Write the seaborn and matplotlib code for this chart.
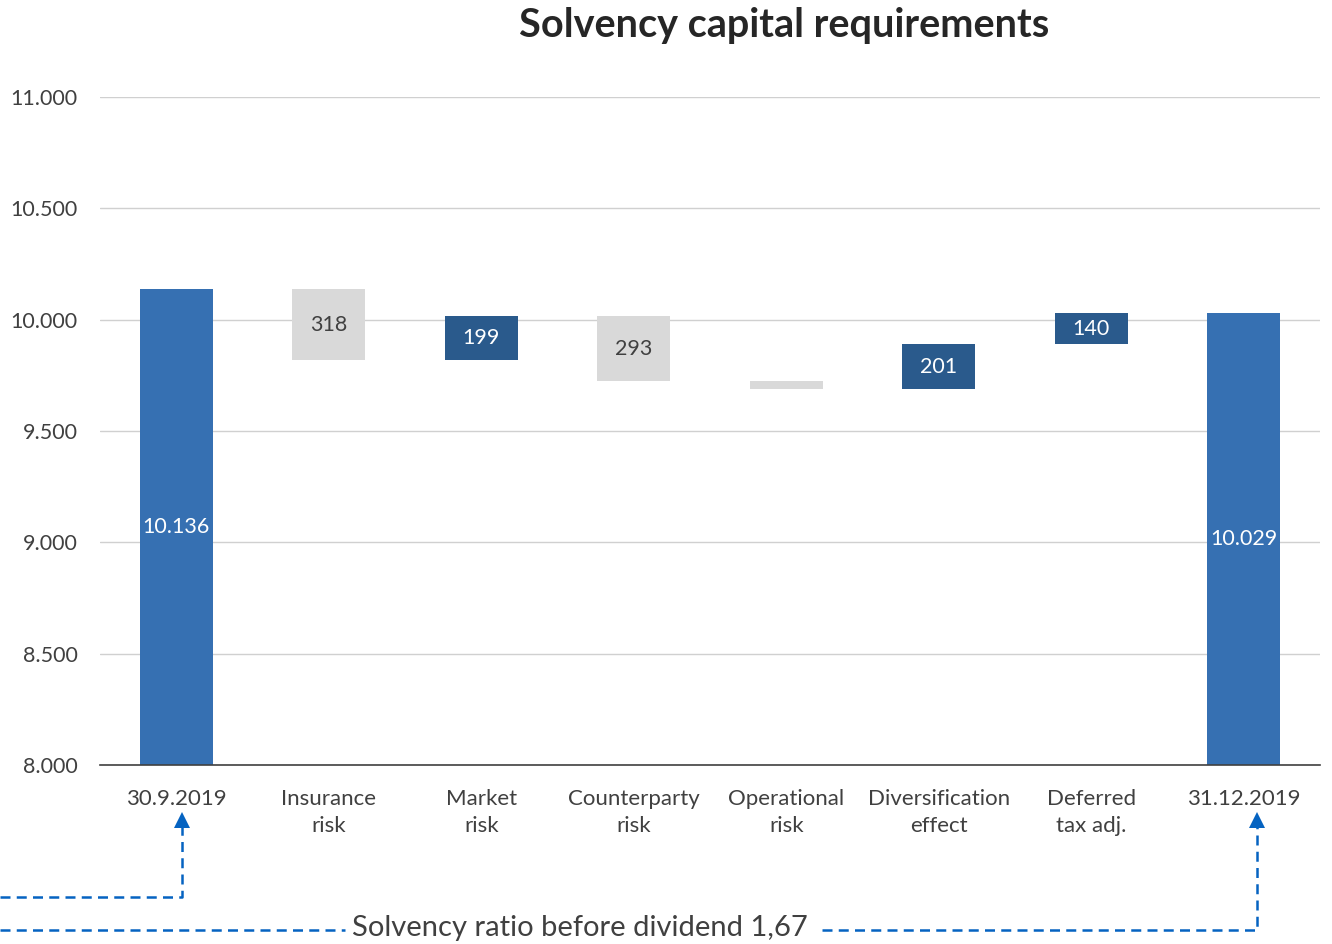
import numpy as np
import pandas as pd
import matplotlib
matplotlib.use("Agg")
import matplotlib.pyplot as plt
from matplotlib.lines import Line2D
import seaborn as sns

# ── data ──────────────────────────────────────────────────────────────────────
categories = ["30.9.2019", "Insurance\nrisk", "Market\nrisk", "Counterparty\nrisk",
              "Operational\nrisk", "Diversification\neffect", "Deferred\ntax adj.",
              "31.12.2019"]
start_value = 10136
changes = [-318, 199, -293, -36, 201, 140]
end_value = 10029
show_label = [True, True, True, True, False, True, True, True]

y_ticks = [8000, 8500, 9000, 9500, 10000, 10500, 11000]
note_text = "Solvency ratio before dividend 1,67"

BLUE = "#3670B2"
DARK = "#2A5A8C"
GREY = "#D9D9D9"
TXT = "#404040"
ARROW = "#0563C1"

# ── build waterfall table ─────────────────────────────────────────────────────
bottoms, heights, colors, labels = [0], [start_value], [BLUE], [start_value]
level = start_value
for c in changes:
    if c >= 0:
        bottoms.append(level); colors.append(DARK)
    else:
        bottoms.append(level + c); colors.append(GREY)
    heights.append(abs(c)); labels.append(abs(c))
    level += c
bottoms.append(0); heights.append(end_value); colors.append(BLUE); labels.append(end_value)

df = pd.DataFrame({"cat": categories, "bottom": bottoms, "height": heights})

sns.set_style("white")
plt.rcParams["font.family"] = ["Lato", "DejaVu Sans"]

W, H = 1332, 944
fig = plt.figure(figsize=(W / 100, H / 100), dpi=100)
ax = fig.add_axes([100 / W, 1 - 765 / H, 1220 / W, 668 / H])

sns.barplot(data=df, x="cat", y="height", hue="cat", palette=colors,
            width=0.48, legend=False, ax=ax, saturation=1, zorder=3)

# shift floating bars to their bottoms
for p in ax.patches:
    i = int(round(p.get_x() + p.get_width() / 2))
    p.set_y(bottoms[i])
    p.set_edgecolor("none")

ax.set_ylim(8000, 11000)
ax.set_xlim(-0.5, len(categories) - 0.5)
ax.set_yticks(y_ticks)
ax.set_yticklabels([f"{v:,}".replace(",", ".") for v in y_ticks])
ax.grid(True, axis="y", color="#D0D0D0", lw=1, zorder=0)
ax.set_axisbelow(True)
for s in ["top", "right", "left"]:
    ax.spines[s].set_visible(False)
ax.spines["bottom"].set_color("#404040")
ax.spines["bottom"].set_linewidth(1.2)
ax.spines["bottom"].set_zorder(5)
ax.tick_params(axis="both", length=0, colors=TXT)
ax.tick_params(axis="y", pad=16, labelsize=15.5)
ax.tick_params(axis="x", pad=17, labelsize=16)
for t in ax.get_xticklabels():
    t.set_linespacing(1.45)
ax.set_xlabel("")
ax.set_ylabel("")

# value labels
for i, (b, h, lab) in enumerate(zip(bottoms, heights, labels)):
    if not show_label[i]:
        continue
    lo = max(b, 8000)
    y = (lo + b + h) / 2
    txt = f"{lab:,}".replace(",", ".")
    col = TXT if colors[i] == GREY else "white"
    ax.text(i, y, txt, ha="center", va="center", fontsize=15.5, color=col, zorder=6)

fig.text(784 / W, 1 - 25 / H, "Solvency capital requirements", ha="center", va="center",
         fontsize=28.5, fontweight="bold", color="#262626")

# dashed connector lines below the chart (figure pixel coords)
def fx(x): return x / W
def fy(y): return 1 - y / H

dash = dict(color=ARROW, lw=1.8, ls=(0, (4, 2.5)))
fig.add_artist(Line2D([fx(0), fx(182), fx(182)], [fy(897), fy(897), fy(826)], **dash))
fig.add_artist(Line2D([fx(0), fx(345)], [fy(930), fy(930)], **dash))
fig.add_artist(Line2D([fx(822), fx(1257), fx(1257)], [fy(930), fy(930), fy(826)], **dash))
for x in (182, 1257):
    fig.add_artist(Line2D([fx(x)], [fy(820)], marker="^", markersize=11,
                          color=ARROW, markeredgewidth=0))
fig.text(fx(580), fy(928), note_text, ha="center", va="center", fontsize=21, color=TXT)

fig.savefig("out.png", dpi=100)
